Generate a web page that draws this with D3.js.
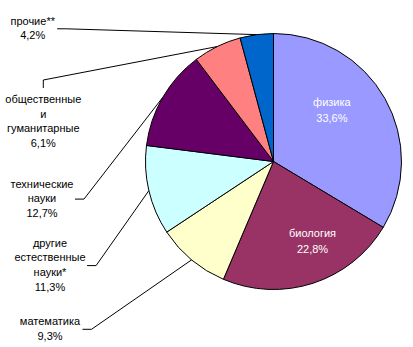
<!DOCTYPE html>
<html>
<head>
<meta charset="utf-8">
<script src="https://cdn.jsdelivr.net/npm/d3@7/dist/d3.min.js"></script>
<style>
  html, body { margin: 0; padding: 0; background: #fff; }
  svg { display: block; }
  text { font-family: "Liberation Sans", Arial, sans-serif; font-size: 11px; }
</style>
</head>
<body>
<svg id="chart" width="413" height="347"></svg>
<script>
// Distribution of publications by field (share, %)
const categories = ["физика", "биология", "математика", "другие естественные науки*",
                    "технические науки", "общественные и гуманитарные", "прочие**"];
const shares = [33.6, 22.8, 9.3, 11.3, 12.7, 6.1, 4.2];
const labelLines = [
  ["физика"],
  ["биология"],
  ["математика"],
  ["другие", "естественные", "науки*"],
  ["технические", "науки"],
  ["общественные", "и", "гуманитарные"],
  ["прочие**"]
];
const colors = ["#9999FF", "#993366", "#FFFFCC", "#CCFFFF", "#660066", "#FF8080", "#0066CC"];

// Layout
const W = 413, H = 347;
const cx = 273.5, cy = 161.5, R = 128;
const lineH = 14.6;
// labels drawn inside their slice: polar position (fraction of slice sweep, fraction of radius)
const inside = { 0: { t: 0.4, r: 0.61 }, 1: { t: 0.4, r: 0.69 } };
// labels drawn outside with leader lines: text centre x, first baseline, where the leader attaches
const outside = {
  2: { x: 50,   y: 325,   attach: "right" },
  3: { x: 50,   y: 246.7, attach: "right" },
  4: { x: 42,   y: 187.5, attach: "right" },
  5: { x: 43.3, y: 103,   attach: "top" },
  6: { x: 32.7, y: 24.5,  attach: "right" }
};

const fmt = v => d3.format(".1f")(v).replace(".", ",") + "%";

const svg = d3.select("#chart");
svg.append("rect").attr("width", W).attr("height", H).attr("fill", "#fff");

const pie = d3.pie().sort(null).value(d => d)(shares);
const arc = d3.arc().innerRadius(0).outerRadius(R);

const g = svg.append("g").attr("transform", `translate(${cx},${cy})`);

g.selectAll("path.slice")
  .data(pie)
  .join("path")
  .attr("class", "slice")
  .attr("d", arc)
  .attr("fill", (d, i) => colors[i])
  .attr("stroke", "#000")
  .attr("stroke-width", 1)
  .attr("stroke-linejoin", "round");

// Inside labels
pie.forEach((d, i) => {
  const p = inside[i];
  if (!p) return;
  const a = d.startAngle + p.t * (d.endAngle - d.startAngle);
  const [x, y] = d3.pointRadial(a, p.r * R);
  const lines = [...labelLines[i], fmt(shares[i])];
  const t = g.append("text")
    .attr("text-anchor", "middle")
    .attr("fill", "#fff");
  lines.forEach((s, k) => {
    t.append("tspan").attr("x", x).attr("y", y - 4 + k * 16).text(s);
  });
});

// Outside labels with leader lines
const leaders = svg.append("g").attr("fill", "none").attr("stroke", "#000").attr("stroke-width", 1);
pie.forEach((d, i) => {
  const o = outside[i];
  if (!o) return;
  const lines = [...labelLines[i], fmt(shares[i])];
  const t = svg.append("text").attr("text-anchor", "middle").attr("fill", "#000");
  lines.forEach((s, k) => {
    t.append("tspan").attr("x", o.x).attr("y", o.y + k * lineH).text(s);
  });
  const bb = t.node().getBBox();
  const lastBase = o.y + (lines.length - 1) * lineH;
  const mid = (d.startAngle + d.endAngle) / 2;
  const [px, py] = d3.pointRadial(mid, R);
  const end = [cx + px, cy + py];
  let pts;
  if (o.attach === "right") {
    const x0 = bb.x + bb.width + 1.5;
    const y0 = ((o.y - 9) + (lastBase + 3)) / 2;
    pts = [[x0, y0], [x0 + 9, y0], end];
  } else {
    const y0 = o.y - 15;
    pts = [[o.x, y0], [o.x, y0 - 8], end];
  }
  leaders.append("path").attr("d", d3.line()(pts));
});
</script>
</body>
</html>
